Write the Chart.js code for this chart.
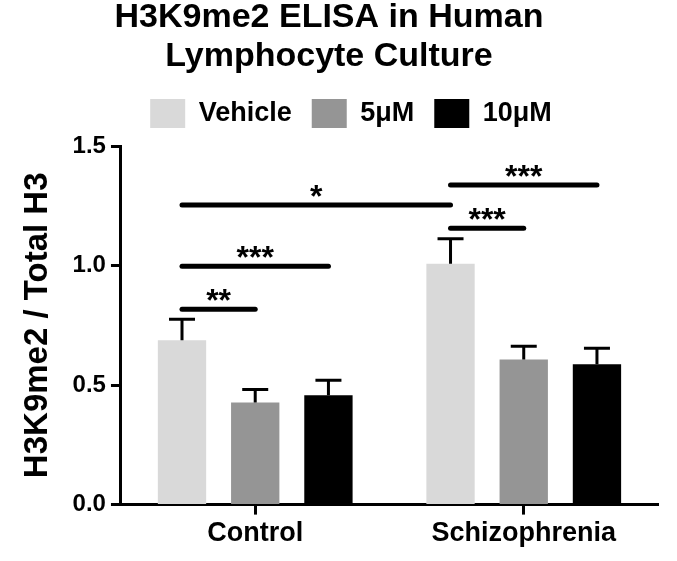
<!DOCTYPE html>
<html>
<head>
<meta charset="utf-8">
<script src="https://cdn.jsdelivr.net/npm/chart.js@4.4.1/dist/chart.umd.min.js"></script>
<style>
  html, body { margin: 0; padding: 0; background: #fff; }
  #wrap { width: 677px; height: 561px; }
</style>
</head>
<body>
<div id="wrap"><canvas id="elisaChart" width="677" height="561"></canvas></div>
<script>
const groups = ["Control", "Schizophrenia"];
const seriesNames = ["Vehicle", "5μM", "10μM"];
const seriesColors = ["#d9d9d9", "#959595", "#000000"];

const vehicle = [0.687, 1.008];
const dose5 = [0.427, 0.607];
const dose10 = [0.457, 0.587];

// upper error (SEM) for each bar
const vehicleErr = [0.088, 0.104];
const dose5Err = [0.055, 0.055];
const dose10Err = [0.063, 0.067];

const yTicks = [0, 0.5, 1.0, 1.5];

// significance bars: from [group, series] to [group, series] at height y
const significance = [
  { from: [0, 0], to: [0, 1], y: 0.817, label: "**" },
  { from: [0, 0], to: [0, 2], y: 0.997, label: "***" },
  { from: [0, 0], to: [1, 0], y: 1.253, label: "*" },
  { from: [1, 0], to: [1, 1], y: 1.156, label: "***" },
  { from: [1, 0], to: [1, 2], y: 1.337, label: "***" },
];

Chart.defaults.font.family = "'Liberation Sans', Arial, sans-serif";
Chart.defaults.color = "#000";

const errorBars = {
  id: "errorBars",
  afterDatasetsDraw(chart) {
    const ctx = chart.ctx;
    const y = chart.scales.y;
    ctx.save();
    ctx.strokeStyle = "#000";
    ctx.lineWidth = 3;
    chart.data.datasets.forEach((ds, i) => {
      chart.getDatasetMeta(i).data.forEach((bar, j) => {
        const top = y.getPixelForValue(ds.data[j] + ds.errors[j]);
        ctx.beginPath();
        ctx.moveTo(bar.x, bar.y);
        ctx.lineTo(bar.x, top);
        ctx.moveTo(bar.x - 13, top);
        ctx.lineTo(bar.x + 13, top);
        ctx.stroke();
      });
    });
    ctx.restore();
  },
};

const sigBars = {
  id: "sigBars",
  afterDatasetsDraw(chart) {
    const ctx = chart.ctx;
    const y = chart.scales.y;
    ctx.save();
    ctx.strokeStyle = "#000";
    ctx.fillStyle = "#000";
    ctx.lineWidth = 5;
    ctx.lineCap = "round";
    ctx.font = "bold 32px 'Liberation Sans', Arial, sans-serif";
    ctx.textAlign = "center";
    ctx.textBaseline = "alphabetic";
    significance.forEach((s) => {
      const a = chart.getDatasetMeta(s.from[1]).data[s.from[0]];
      const b = chart.getDatasetMeta(s.to[1]).data[s.to[0]];
      const py = y.getPixelForValue(s.y);
      ctx.beginPath();
      ctx.moveTo(a.x, py);
      ctx.lineTo(b.x, py);
      ctx.stroke();
      ctx.fillText(s.label, (a.x + b.x) / 2, py + 2);
    });
    ctx.restore();
  },
};

// nudge legend right and leave a gap under it
const legendNudge = {
  id: "legendNudge",
  beforeLayout(chart) {
    const legend = chart.legend;
    if (legend && !legend._nudged) {
      const fit = legend.fit;
      legend.fit = function () {
        fit.call(this);
        this.height += 8;
      };
      legend._nudged = true;
    }
  },
  afterLayout(chart) {
    chart.legend.left += 22;
    chart.legend.right += 22;
  },
};

const ctx = document.getElementById("elisaChart");

new Chart(ctx, {
  type: "bar",
  data: {
    labels: groups,
    datasets: [
      { label: seriesNames[0], data: vehicle, errors: vehicleErr, backgroundColor: seriesColors[0] },
      { label: seriesNames[1], data: dose5, errors: dose5Err, backgroundColor: seriesColors[1] },
      { label: seriesNames[2], data: dose10, errors: dose10Err, backgroundColor: seriesColors[2] },
    ],
  },
  options: {
    responsive: false,
    animation: false,
    layout: { padding: { left: 0, right: 19, top: 0, bottom: 8 } },
    datasets: {
      bar: { categoryPercentage: 0.818, barPercentage: 0.66, borderWidth: 0 },
    },
    plugins: {
      title: {
        display: true,
        text: ["H3K9me2 ELISA in Human", "Lymphocyte Culture"],
        color: "#000",
        font: { size: 34, weight: "bold", lineHeight: 1.14 },
        padding: { top: -2, bottom: 3.5 },
      },
      legend: {
        display: true,
        position: "top",
        labels: {
          boxWidth: 35,
          boxHeight: 29,
          padding: 20,
          color: "#000",
          font: { size: 27, weight: "bold" },
        },
      },
      tooltip: { enabled: false },
    },
    scales: {
      x: {
        grid: {
          drawOnChartArea: false,
          offset: false,
          tickLength: 10,
          tickWidth: 3,
          color: "#000",
        },
        border: { color: "#000", width: 3 },
        ticks: { color: "#000", padding: 3, font: { size: 27, weight: "bold" } },
      },
      y: {
        min: 0,
        max: 1.5,
        afterBuildTicks(scale) {
          scale.ticks = yTicks.map((v) => ({ value: v }));
        },
        grid: {
          drawOnChartArea: false,
          tickLength: 10,
          tickWidth: 3,
          color: "#000",
        },
        border: { color: "#000", width: 3 },
        ticks: {
          color: "#000",
          padding: 5,
          font: { size: 24, weight: "bold" },
          callback: (v) => Number(v).toFixed(1),
        },
        title: {
          display: true,
          text: "H3K9me2 / Total H3",
          color: "#000",
          font: { size: 33, weight: "bold" },
          padding: { top: 18, bottom: 10 },
        },
      },
    },
  },
  plugins: [errorBars, sigBars, legendNudge],
});
</script>
</body>
</html>
